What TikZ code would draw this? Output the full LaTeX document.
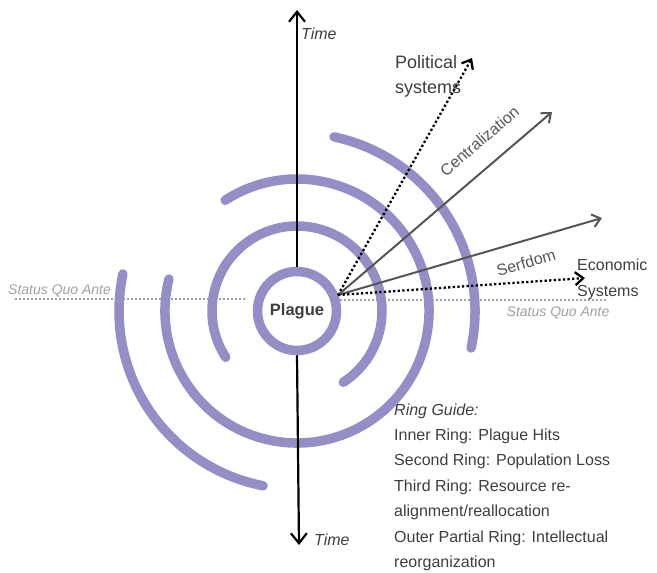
\documentclass[tikz,border=0pt]{standalone}
\usepackage{fontspec}
\setmainfont{Liberation Sans}
\usetikzlibrary{arrows.meta}
\definecolor{ringc}{RGB}{147,142,197}
\definecolor{txtc}{RGB}{62,62,62}
\definecolor{arrc}{RGB}{85,85,85}
\definecolor{sqac}{RGB}{160,160,160}
\begin{document}
\begin{tikzpicture}[x=1pt,y=1pt,
  ringarc/.style={draw=ringc,line width=9.5pt,line cap=round},
  timearrow/.style={draw=black,line width=2.2pt,-{Straight Barb[length=10pt,width=16pt]}},
  solidarrow/.style={draw=arrc,line width=2pt,-{Straight Barb[length=8pt,width=13pt]}},
  dotarrow/.style={draw=black,line width=2.3pt,dash pattern=on 2.3pt off 2.3pt,-{Straight Barb[length=8pt,width=13pt]}},
  sqline/.style={draw=sqac,line width=1.5pt,dash pattern=on 1.5pt off 2.5pt},
  lbl/.style={text=txtc,inner sep=0pt,font=\fontsize{16}{20}\selectfont},
  sqlbl/.style={text=sqac,inner sep=0pt,anchor=base west,font=\itshape\fontsize{14}{16}\selectfont},
  timelbl/.style={text=txtc,inner sep=0pt,anchor=base west,font=\itshape\fontsize{16}{20}\selectfont},
  arrlbl/.style={text=arrc,inner sep=0pt,font=\fontsize{16}{20}\selectfont}]
\useasboundingbox (0,-573) rectangle (657,0);
\coordinate (C) at (297,-311);
% status quo ante lines
\coordinate (sqL1) at (15,-299);
\coordinate (sqL2) at (247,-299);
\coordinate (sqR1) at (340,-300);
\coordinate (sqR2) at (607,-300);
\draw[sqline] (sqL1) -- (sqL2);
\draw[sqline] (sqR1) -- (sqR2);
% rings
\draw[ringarc] ([shift={(-57:85)}]C) arc[start angle=-57,end angle=213,radius=85];
\draw[ringarc] ([shift={(166:132)}]C) arc[start angle=166,end angle=483,radius=132];
\draw[ringarc] ([shift={(168:178)}]C) arc[start angle=168,end angle=259,radius=178];
\draw[ringarc] ([shift={(-12:178)}]C) arc[start angle=-12,end angle=78,radius=178];
\node[circle,draw=ringc,line width=9.5pt,minimum size=79pt,inner sep=0pt,text=txtc,
      font=\bfseries\fontsize{16.5}{20}\selectfont] (plague) at (C) {Plague};
% time axis
\coordinate (timeT) at (297,-10);
\coordinate (timeB) at (299,-545);
\draw[timearrow] (plague.north) -- (timeT);
\draw[timearrow] (plague.south) -- (timeB);
\node[timelbl] (timeTl) at (301,-39.3) {Time};
\node[timelbl] (timeBl) at (314,-545) {Time};
% radiating arrows
\coordinate (src) at (338,-295);
\coordinate (polT) at (472,-58);
\coordinate (cenT) at (552,-112);
\coordinate (serT) at (602,-218);
\coordinate (ecoT) at (585,-278);
\draw[dotarrow] (src) -- (polT);
\draw[solidarrow] (src) -- (cenT);
\draw[solidarrow] (src) -- (serT);
\draw[dotarrow] (src) -- (ecoT);
\node[arrlbl,rotate=40.7] (cenl) at (479.5,-141) {Centralization};
\node[arrlbl,rotate=16.5] (serl) at (526,-262.5) {Serfdom};
\node[lbl,anchor=base west,align=left,font=\fontsize{18}{25.3}\selectfont] (pol) at (395,-93.3) {Political\\systems};
\node[lbl,anchor=base west,align=left,font=\fontsize{16}{26.5}\selectfont] (eco) at (577,-296.7) {Economic\\Systems};
% status quo labels
\node[sqlbl] (sqLl) at (8,-294) {Status Quo Ante};
\node[sqlbl] (sqRl) at (506.5,-316) {Status Quo Ante};
% ring guide
\node[lbl,anchor=base west,align=left,font=\fontsize{16}{25.4}\selectfont] (guide) at (394,-567.5)
  {\textit{Ring Guide:}\\Inner Ring: Plague Hits\\Second Ring: Population Loss\\Third Ring: Resource re-\\alignment/reallocation\\Outer Partial Ring: Intellectual\\reorganization};
\end{tikzpicture}
\end{document}
